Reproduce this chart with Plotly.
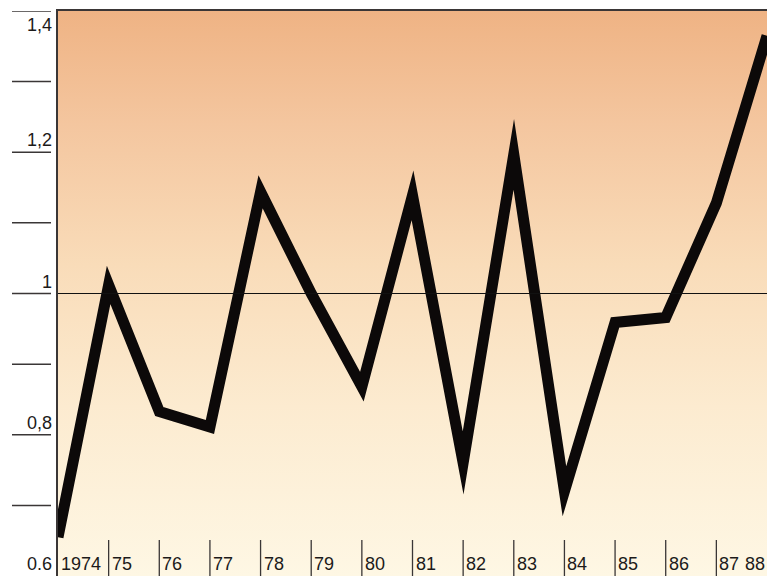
import plotly.graph_objects as go

# Yearly index values, 1974-1988
years = list(range(1974, 1989))
values = [0.655, 1.012, 0.833, 0.811, 1.144, 1.0, 0.868, 1.139, 0.76, 1.197,
          0.72, 0.959, 0.966, 1.128, 1.365]

# Axis labelling
x_tick_years = list(range(1974, 1988))
x_labels = ["1974", "75", "76", "77", "78", "79", "80", "81", "82", "83",
            "84", "85", "86", "87"]
x_last_label = "88"
y_tick_values = [0.7, 0.8, 0.9, 1.0, 1.1, 1.2, 1.3, 1.4]
y_labels = {0.8: "0,8", 1.0: "1", 1.2: "1,2", 1.4: "1,4"}
y_bottom_label = "0.6"

X_RANGE = [1974, 1988]
Y_RANGE = [0.6, 1.4]
REFERENCE = 1.0

W, H = 767, 576
ML, MR, MT, MB = 58, 0, 11, 0
PLOT_W = W - ML - MR
PLOT_H = H - MT - MB

FONT = "Liberation Sans Narrow, Arial Narrow, Liberation Sans, Arial, sans-serif"
INK = "#1c1a1a"
AXIS = "#3a3636"

fig = go.Figure()

# Warm vertical gradient behind the data
fig.add_trace(go.Scatter(
    x=[X_RANGE[0], X_RANGE[1], X_RANGE[1], X_RANGE[0], X_RANGE[0]],
    y=[Y_RANGE[0], Y_RANGE[0], Y_RANGE[1], Y_RANGE[1], Y_RANGE[0]],
    mode="lines", line=dict(width=0), fill="toself",
    fillgradient=dict(
        type="vertical",
        colorscale=[[0.0, "#fef7e4"], [0.3, "#fcebd0"], [0.55, "#f9dcb9"],
                    [0.8, "#f4c69f"], [1.0, "#efb384"]],
        start=Y_RANGE[0], stop=Y_RANGE[1]),
    hoverinfo="skip", showlegend=False,
))

# Main series
fig.add_trace(go.Scatter(
    x=years, y=values, mode="lines",
    line=dict(color="#0c0909", width=11),
    hoverinfo="x+y", showlegend=False,
))

shapes = []
# Reference line at 1
shapes.append(dict(type="line", xref="paper", yref="y", x0=0, x1=1,
                   y0=REFERENCE, y1=REFERENCE, layer="above",
                   line=dict(color="#111", width=1)))
# Y tick marks, set off to the left of the axis
for v in y_tick_values:
    shapes.append(dict(type="line", xref="paper", yref="y",
                       x0=-46 / PLOT_W, x1=-7 / PLOT_W, y0=v, y1=v,
                       line=dict(color=AXIS, width=1.5)))
# X tick marks rising from the bottom edge
for yr in x_tick_years[1:]:
    shapes.append(dict(type="line", xref="x", yref="paper",
                       x0=yr, x1=yr, y0=0, y1=36 / PLOT_H, layer="above",
                       line=dict(color=AXIS, width=1.3)))

annotations = []
for yr, lab in zip(x_tick_years, x_labels):
    annotations.append(dict(x=yr, y=0, xref="x", yref="paper", text=lab,
                            showarrow=False, xanchor="left", yanchor="bottom",
                            xshift=1, yshift=0,
                            font=dict(family=FONT, size=18, color=INK)))
annotations.append(dict(x=X_RANGE[1], y=0, xref="x", yref="paper",
                        text=x_last_label, showarrow=False, xanchor="right",
                        yanchor="bottom", xshift=0, yshift=0,
                        font=dict(family=FONT, size=18, color=INK)))
for v, lab in y_labels.items():
    top = v == Y_RANGE[1]
    annotations.append(dict(x=0, y=v, xref="paper", yref="y", text=lab,
                            showarrow=False, xanchor="right",
                            yanchor="top" if top else "bottom",
                            xshift=-4, yshift=-2 if top else 0,
                            font=dict(family=FONT, size=18, color=INK)))
annotations.append(dict(x=0, y=0, xref="paper", yref="paper",
                        text=y_bottom_label, showarrow=False, xanchor="right",
                        yanchor="bottom", xshift=-4, yshift=0,
                        font=dict(family=FONT, size=18, color=INK)))

fig.update_layout(
    width=W, height=H,
    margin=dict(l=ML, r=MR, t=MT, b=MB, pad=0),
    paper_bgcolor="#ffffff", plot_bgcolor="#ffffff",
    shapes=shapes, annotations=annotations,
    xaxis=dict(range=X_RANGE, side="top", showline=True, linecolor=AXIS,
               linewidth=1.5, showgrid=False, zeroline=False,
               showticklabels=False, ticks=""),
    yaxis=dict(range=Y_RANGE, showline=True, linecolor=AXIS, linewidth=1.5,
               showgrid=False, zeroline=False, showticklabels=False, ticks=""),
)

# Keep sharp corners pointed on the thick series line
post = """
var gd = document.getElementById('{plot_id}');
function sharpen() {
  gd.querySelectorAll('.scatterlayer .js-line').forEach(function (p) {
    p.style.strokeMiterlimit = '12';
  });
}
sharpen();
gd.on('plotly_afterplot', sharpen);
"""

fig.write_html("out.html", post_script=post)
